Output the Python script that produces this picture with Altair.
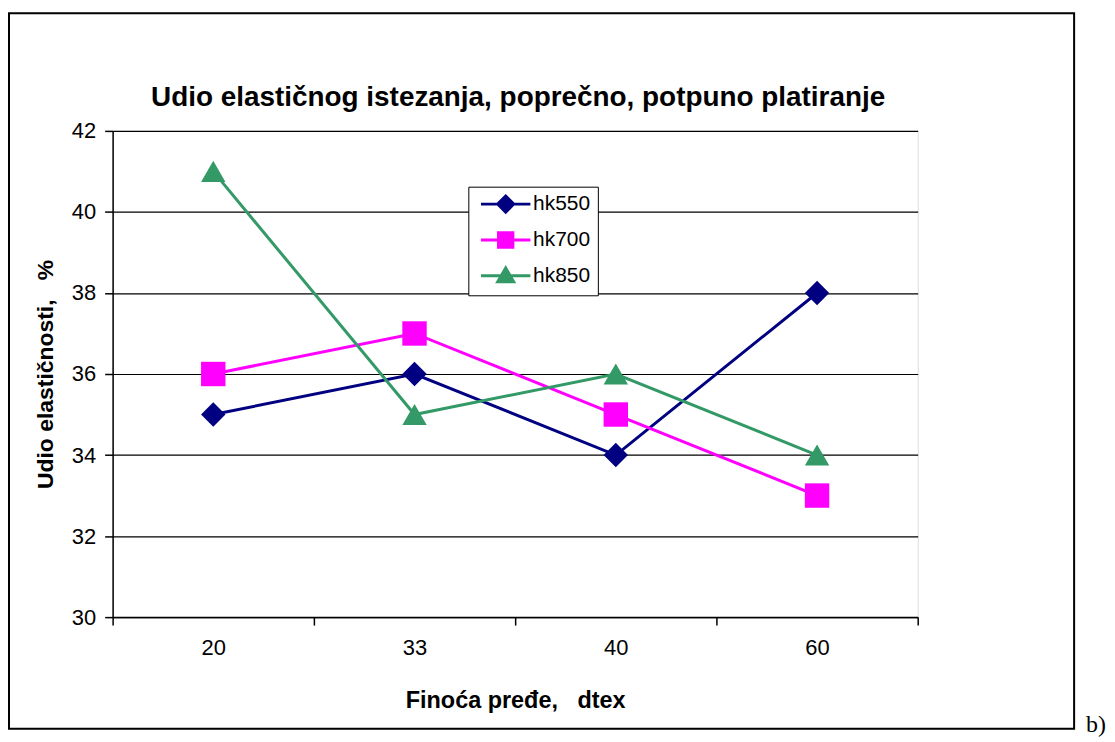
import altair as alt
import pandas as pd

categories = ["20", "33", "40", "60"]
series_names = ["hk550", "hk700", "hk850"]
hk550 = [35, 36, 34, 38]
hk700 = [36, 37, 35, 33]
hk850 = [41, 35, 36, 34]
y_ticks = [30, 32, 34, 36, 38, 40, 42]
colors = ["#000080", "#FF00FF", "#339966"]
marker_shapes = ["diamond", "square", "triangle-up"]
# legend symbols: short line with the marker on it
legend_shapes = [
    "M-3.1,0H3.1M0,-1L1,0L0,1L-1,0Z",
    "M-3.1,0H3.1M-0.9,-0.9H0.9V0.9H-0.9Z",
    "M-3.1,0H3.1M0,-1L1,0.75L-1,0.75Z",
]
chart_title = "Udio elastičnog istezanja, poprečno, potpuno platiranje"

rows = []
for name, vals in zip(series_names, [hk550, hk700, hk850]):
    for c, v in zip(categories, vals):
        rows.append({"finoca": c, "udio": v, "serija": name})
df = pd.DataFrame(rows)

FONT = "Liberation Sans"
NB = "\u00a0"

x_enc = alt.X(
    "finoca:N",
    sort=categories,
    scale=alt.Scale(type="band", paddingInner=0, paddingOuter=0),
    axis=alt.Axis(
        title="Finoća pređe," + NB * 3 + "dtex",
        tickBand="extent",
        labelAngle=0,
        grid=False,
        domainColor="black",
        domainWidth=1.5,
        tickColor="black",
        tickWidth=1.5,
        tickSize=8,
        labelFont=FONT,
        labelFontSize=22,
        labelColor="black",
        labelPadding=13,
        titleFont=FONT,
        titleFontSize=23.5,
        titleFontWeight="bold",
        titleColor="black",
        titlePadding=30,
    ),
)
y_enc = alt.Y(
    "udio:Q",
    scale=alt.Scale(domain=[30, 42], nice=False, zero=False),
    axis=alt.Axis(
        title="Udio elastičnosti," + NB * 3 + "%",
        values=y_ticks,
        grid=True,
        gridColor="black",
        gridWidth=1.2,
        domainColor="black",
        domainWidth=1.5,
        tickColor="black",
        tickWidth=1.5,
        tickSize=8,
        labelFont=FONT,
        labelFontSize=22,
        labelColor="black",
        labelPadding=9,
        titleFont=FONT,
        titleFontSize=23,
        titleFontWeight="bold",
        titleColor="black",
        titlePadding=14,
    ),
)

color_scale = alt.Scale(domain=series_names, range=colors)

base = alt.Chart(df)

lines = base.mark_line(strokeWidth=3).encode(
    x=x_enc,
    y=y_enc,
    color=alt.Color("serija:N", scale=color_scale, legend=None),
)

points = base.mark_point(filled=True, opacity=1, size=600).encode(
    x=x_enc,
    y=y_enc,
    color=alt.Color("serija:N", scale=color_scale, legend=None),
    shape=alt.Shape(
        "serija:N",
        scale=alt.Scale(domain=series_names, range=marker_shapes),
        legend=None,
    ),
)

leg = alt.Legend(
    title=None,
    orient="none",
    legendX=357,
    legendY=56,
    fillColor="white",
    strokeColor="black",
    padding=7,
    labelFont=FONT,
    labelFontSize=21,
    labelColor="black",
    symbolSize=256,
    symbolStrokeWidth=3,
    symbolOffset=20,
    labelOffset=17,
    rowPadding=8,
)

legend_layer = base.transform_filter("false").mark_point(
    filled=True, opacity=1, strokeWidth=3
).encode(
    x=x_enc,
    y=y_enc,
    fill=alt.Fill("serija:N", scale=alt.Scale(domain=series_names, range=colors), legend=leg),
    stroke=alt.Stroke("serija:N", scale=alt.Scale(domain=series_names, range=colors), legend=leg),
    shape=alt.Shape("serija:N", scale=alt.Scale(domain=series_names, range=legend_shapes), legend=leg),
)

frame = alt.Chart(pd.DataFrame({"k": [0]})).mark_rect(
    fill=None, stroke="black", strokeWidth=2
).encode(
    x=alt.value(-104), x2=alt.value(965), y=alt.value(-118), y2=alt.value(600)
)

title_mark = alt.Chart(pd.DataFrame({"t": [chart_title]})).mark_text(
    font=FONT, fontSize=28, fontWeight="bold", align="center",
    baseline="alphabetic", color="black"
).encode(text="t:N", x=alt.value(407), y=alt.value(-25))

tag = alt.Chart(pd.DataFrame({"t": ["b)"]})).mark_text(
    font="Liberation Serif", fontSize=24, align="left", baseline="alphabetic", color="black"
).encode(text="t:N", x=alt.value(977), y=alt.value(603))

chart = (
    alt.layer(frame, lines, points, legend_layer, title_mark, tag)
    .resolve_scale(shape="independent", color="independent", fill="independent", stroke="independent")
    .properties(
        width=808,
        height=488,
        autosize=alt.AutoSizeParams(type="none"),
        padding={"left": 105, "top": 122, "right": 190, "bottom": 124},
    )
    .configure_view(stroke="#808080", strokeWidth=1.5)
    .configure(background="white")
)

chart.save("out.html", embed_options={"renderer": "svg", "actions": False})
